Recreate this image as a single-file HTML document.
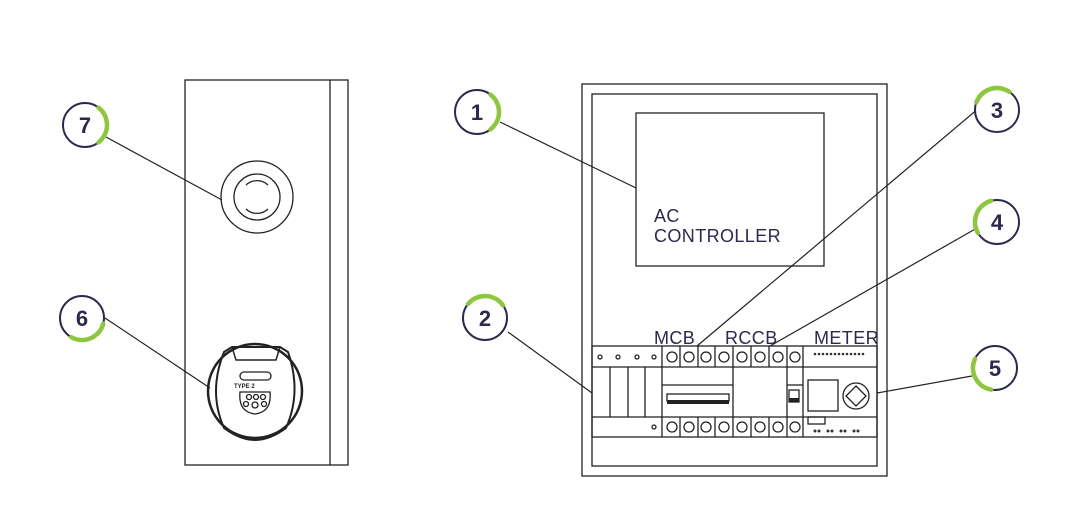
<!DOCTYPE html>
<html><head><meta charset="utf-8"><style>body{margin:0;background:#fff}svg{display:block}</style></head><body>
<svg width="1080" height="508" viewBox="0 0 1080 508" xmlns="http://www.w3.org/2000/svg" font-family="Liberation Sans, sans-serif">
<g fill="none" stroke="#222" stroke-width="1.3">
<rect x="185" y="80" width="163" height="385"/>
<line x1="330" y1="80" x2="330" y2="465"/>
<circle cx="257" cy="197" r="36"/>
<circle cx="257" cy="197" r="23"/>
<path d="M246 185 A16 16 0 0 1 268 185 M246 209 A16 16 0 0 0 268 209"/>
<circle cx="255" cy="391" r="47" stroke-width="2.5"/>
<path d="M224 352 L232 347 L280 347 L288 352 Q302 392 286 428 Q270 440 255 440 Q240 440 224 428 Q208 392 224 352Z" stroke-width="2"/>
<path d="M232 347 L236 360 L276 360 L280 347" stroke-width="1.5"/>
<rect x="240" y="372" width="31" height="8" rx="4"/>
<path d="M240 392 L270 392 Q272 412 255 414 Q238 412 240 392Z"/>
<circle cx="249" cy="397" r="2.5"/><circle cx="256" cy="397" r="2.5"/><circle cx="263" cy="397" r="2.5"/>
<circle cx="246" cy="404" r="2.5"/><circle cx="255" cy="405" r="3"/><circle cx="264" cy="404" r="2.5"/>
<rect x="582" y="84" width="305" height="392"/>
<rect x="592" y="94" width="285" height="372"/>
<rect x="636" y="113" width="188" height="153"/>
<rect x="592" y="346" width="285" height="91"/>
<line x1="592" y1="367" x2="877" y2="367"/>
<line x1="592" y1="417" x2="877" y2="417"/>
<line x1="610" y1="367" x2="610" y2="417"/><line x1="628" y1="367" x2="628" y2="417"/><line x1="645" y1="367" x2="645" y2="417"/>
<line x1="662" y1="346" x2="662" y2="437"/>
<line x1="733" y1="346" x2="733" y2="437"/><line x1="787" y1="367" x2="787" y2="417"/><line x1="803" y1="346" x2="803" y2="437"/>
<line x1="787" y1="385" x2="803" y2="385"/>
<line x1="662" y1="385" x2="733" y2="385"/>
<g>
<line x1="680" y1="346" x2="680" y2="367"/><line x1="698" y1="346" x2="698" y2="367"/><line x1="715" y1="346" x2="715" y2="367"/><line x1="751" y1="346" x2="751" y2="367"/><line x1="769" y1="346" x2="769" y2="367"/><line x1="787" y1="346" x2="787" y2="367"/>
<line x1="680" y1="417" x2="680" y2="437"/><line x1="698" y1="417" x2="698" y2="437"/><line x1="715" y1="417" x2="715" y2="437"/><line x1="751" y1="417" x2="751" y2="437"/><line x1="769" y1="417" x2="769" y2="437"/><line x1="787" y1="417" x2="787" y2="437"/>
</g>
<g>
<circle cx="600" cy="357" r="2"/><circle cx="618" cy="357" r="2"/><circle cx="637" cy="357" r="2"/><circle cx="654" cy="357" r="2"/><circle cx="654" cy="427" r="2"/>
<circle cx="672" cy="357" r="5"/><circle cx="689" cy="357" r="5"/><circle cx="706" cy="357" r="5"/><circle cx="724" cy="357" r="5"/><circle cx="742" cy="357" r="5"/><circle cx="760" cy="357" r="5"/><circle cx="778" cy="357" r="5"/><circle cx="795" cy="357" r="5"/>
<circle cx="672" cy="427" r="5"/><circle cx="689" cy="427" r="5"/><circle cx="706" cy="427" r="5"/><circle cx="724" cy="427" r="5"/><circle cx="742" cy="427" r="5"/><circle cx="760" cy="427" r="5"/><circle cx="778" cy="427" r="5"/><circle cx="795" cy="427" r="5"/>
</g>
<rect x="667" y="394" width="62" height="7"/>
<rect x="808" y="380" width="30" height="31"/>
<circle cx="856" cy="396" r="13"/>
<path d="M856 386 L866 396 L856 406 L846 396Z"/>
<rect x="808" y="417" width="17" height="7"/>
<rect x="789" y="390" width="10" height="12"/>
</g>
<rect x="667" y="400" width="62" height="4" fill="#222"/>
<rect x="789" y="398" width="10" height="4" fill="#222"/>
<g fill="#333"><circle cx="815" cy="354" r="1.3"/><circle cx="819" cy="354" r="1.3"/><circle cx="823" cy="354" r="1.3"/><circle cx="827" cy="354" r="1.3"/><circle cx="831" cy="354" r="1.3"/><circle cx="835" cy="354" r="1.3"/><circle cx="839" cy="354" r="1.3"/><circle cx="843" cy="354" r="1.3"/><circle cx="847" cy="354" r="1.3"/><circle cx="851" cy="354" r="1.3"/><circle cx="855" cy="354" r="1.3"/><circle cx="859" cy="354" r="1.3"/><circle cx="863" cy="354" r="1.3"/>
<circle cx="815" cy="431" r="1.5"/><circle cx="819" cy="431" r="1.5"/><circle cx="828" cy="431" r="1.5"/><circle cx="832" cy="431" r="1.5"/><circle cx="841" cy="431" r="1.5"/><circle cx="845" cy="431" r="1.5"/><circle cx="854" cy="431" r="1.5"/><circle cx="858" cy="431" r="1.5"/></g>
<text x="234" y="388" font-size="6" font-weight="bold" fill="#222">TYPE 2</text>
<g fill="#2b2a4c" font-size="18" letter-spacing="0.4">
<text x="654" y="222">AC</text><text x="654" y="242">CONTROLLER</text>
<text x="654" y="344">MCB</text><text x="725" y="344">RCCB</text><text x="814" y="344">METER</text>
</g>
<g stroke="#222" stroke-width="1.2">
<line x1="500" y1="122" x2="636" y2="188"/>
<line x1="106" y1="137" x2="222" y2="200"/>
<line x1="105" y1="318" x2="210" y2="388"/>
<line x1="508" y1="332" x2="592" y2="393"/>
<line x1="979" y1="108" x2="697" y2="346"/>
<line x1="977" y1="228" x2="770" y2="346"/>
<line x1="972" y1="376" x2="877" y2="393"/>
</g>
<g fill="#fff" stroke="#2b2a4c" stroke-width="2">
<circle cx="477" cy="112" r="22"/><circle cx="85" cy="125" r="22"/><circle cx="82" cy="318" r="22"/><circle cx="485" cy="318" r="22"/><circle cx="997" cy="110" r="22"/><circle cx="997" cy="222" r="22"/><circle cx="995" cy="368" r="22"/>
</g>
<g fill="none" stroke="#8dc63f" stroke-width="4.5" stroke-linecap="round" stroke-dasharray="40 200">
<circle cx="477" cy="112" r="22" transform="rotate(-52 477 112)"/>
<circle cx="85" cy="125" r="22" transform="rotate(-52 85 125)"/>
<circle cx="82" cy="318" r="22" transform="rotate(15 82 318)"/>
<circle cx="485" cy="318" r="22" transform="rotate(-140 485 318)"/>
<circle cx="997" cy="110" r="22" transform="rotate(-160 997 110)"/>
<circle cx="997" cy="222" r="22" transform="rotate(150 997 222)"/>
<circle cx="995" cy="368" r="22" transform="rotate(100 995 368)"/>
</g>
<g fill="#2b2a4c" font-size="22" font-weight="bold" text-anchor="middle">
<text x="477" y="120">1</text><text x="85" y="133">7</text><text x="82" y="326">6</text><text x="485" y="326">2</text><text x="997" y="118">3</text><text x="997" y="230">4</text><text x="995" y="376">5</text>
</g>
</svg>
</body></html>
